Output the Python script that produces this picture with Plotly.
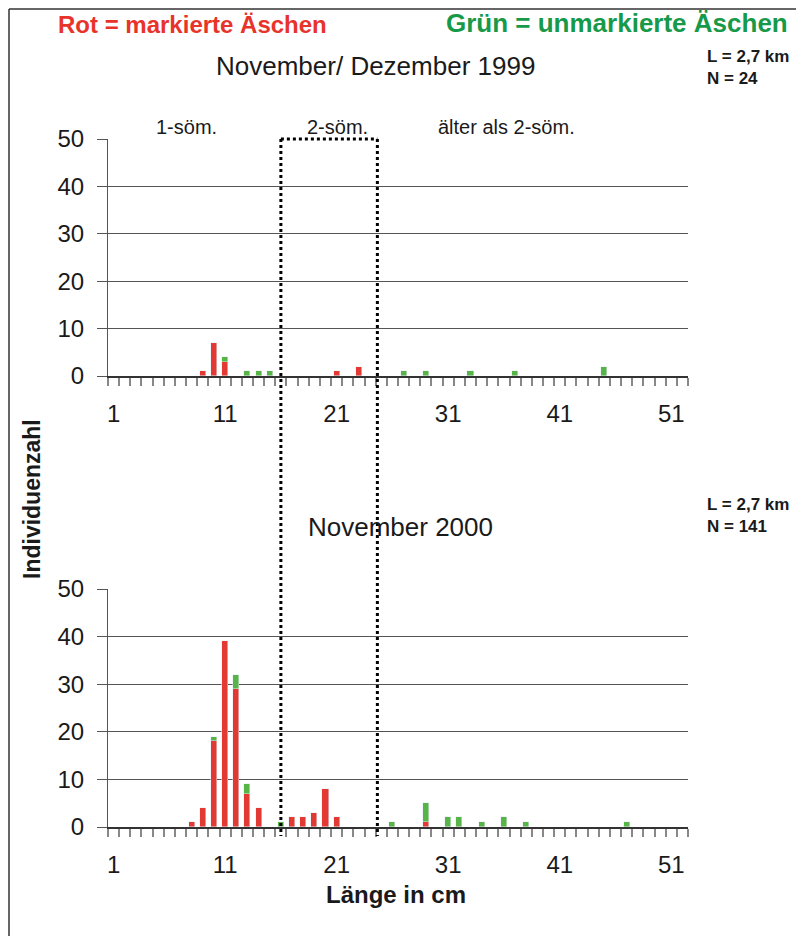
import plotly.graph_objects as go

# November/Dezember 1999 (Länge in cm -> Anzahl)
len_1999_red = [9, 10, 11, 21, 23]
cnt_1999_red = [1, 7, 3, 1, 2]
len_1999_green = [11, 13, 14, 15, 27, 29, 33, 37, 45]
cnt_1999_green = [1, 1, 1, 1, 1, 1, 1, 1, 2]

# November 2000
len_2000_red = [8, 9, 10, 11, 12, 13, 14, 17, 18, 19, 20, 21, 29]
cnt_2000_red = [1, 4, 18, 39, 29, 7, 4, 2, 2, 3, 8, 2, 1]
len_2000_green = [10, 12, 13, 16, 26, 29, 31, 32, 34, 36, 38, 47]
cnt_2000_green = [1, 3, 2, 1, 1, 4, 2, 2, 1, 2, 1, 1]

x_ticks = [1, 11, 21, 31, 41, 51]
y_ticks = [0, 10, 20, 30, 40, 50]
age_labels = ["1-söm.", "2-söm.", "älter als 2-söm."]

RED = '#E23A33'
GREEN = '#57B447'
FONT = 'Liberation Sans, Arial, sans-serif'
W, H = 804, 936
OFF = 8  # page body margin


def px(x):
    return (x - OFF) / W


def py(y):
    return 1 - (y - OFF) / H


fig = go.Figure()

# 1999 panel
fig.add_trace(go.Bar(x=len_1999_red, y=cnt_1999_red, marker_color=RED,
                     width=0.55, xaxis='x', yaxis='y', showlegend=False))
fig.add_trace(go.Bar(x=len_1999_green, y=cnt_1999_green, marker_color=GREEN,
                     width=0.55, xaxis='x', yaxis='y', showlegend=False))
# 2000 panel
fig.add_trace(go.Bar(x=len_2000_red, y=cnt_2000_red, marker_color=RED,
                     width=0.55, xaxis='x2', yaxis='y2', showlegend=False))
fig.add_trace(go.Bar(x=len_2000_green, y=cnt_2000_green, marker_color=GREEN,
                     width=0.55, xaxis='x2', yaxis='y2', showlegend=False))

xdom = [px(108), px(688)]
xaxis_style = dict(
    range=[0.5, 52.5], domain=xdom, tickvals=x_ticks,
    ticks='outside', ticklen=8, tickcolor='rgba(0,0,0,0)',
    ticklabelstandoff=7,
    minor=dict(tick0=0.5, dtick=1, ticks='outside', ticklen=8,
               tickcolor='#888', tickwidth=1.5, showgrid=False),
    showline=True, linecolor='#333', linewidth=1.5,
    showgrid=False, zeroline=False, automargin=False,
    tickfont=dict(size=24, color='#1a1a1a', family=FONT),
)
yaxis_style = dict(
    range=[0, 50], tickvals=y_ticks,
    ticks='outside', ticklen=10, tickcolor='#555', ticklabelstandoff=8,
    showline=True, linecolor='#555', linewidth=1,
    showgrid=True, gridcolor='#555', gridwidth=1, zeroline=False,
    automargin=False,
    tickfont=dict(size=24, color='#1a1a1a', family=FONT),
)

fig.update_layout(
    width=W, height=H,
    margin=dict(l=0, r=0, t=0, b=0),
    paper_bgcolor='white', plot_bgcolor='white',
    barmode='stack', bargap=0,
    font=dict(family=FONT, color='#1a1a1a'),
    xaxis=dict(xaxis_style, anchor='y'),
    yaxis=dict(yaxis_style, domain=[py(376), py(139)], anchor='x'),
    xaxis2=dict(xaxis_style, anchor='y2'),
    yaxis2=dict(yaxis_style, domain=[py(827), py(589)], anchor='x2'),
)

ann = [
    dict(text='<b>Rot = markierte Äschen</b>', x=px(192), y=py(24),
         font=dict(size=24, color='#E8332B')),
    dict(text='<b>Grün = unmarkierte Äschen</b>', x=px(617), y=py(23),
         font=dict(size=26, color='#17994A')),
    dict(text='November/ Dezember 1999', x=px(375), y=py(66),
         font=dict(size=26)),
    dict(text='November 2000', x=px(400), y=py(527), font=dict(size=26)),
    dict(text='<b>L = 2,7 km<br>N = 24</b>', x=px(705), y=py(68),
         xanchor='left', align='left', font=dict(size=17)),
    dict(text='<b>L = 2,7 km<br>N = 141</b>', x=px(705), y=py(516),
         xanchor='left', align='left', font=dict(size=17)),
    dict(text=age_labels[0], x=px(186), y=py(127), font=dict(size=20)),
    dict(text=age_labels[1], x=px(337), y=py(127), font=dict(size=20)),
    dict(text=age_labels[2], x=px(506), y=py(127), font=dict(size=20)),
    dict(text='<b>Individuenzahl</b>', x=px(32), y=py(499), textangle=-90,
         font=dict(size=23)),
    dict(text='<b>Länge in cm</b>', x=px(396), y=py(894), font=dict(size=24)),
]
for a in ann:
    a.setdefault('xanchor', 'center')
    a.update(xref='paper', yref='paper', yanchor='middle', showarrow=False)
    a['font'].setdefault('color', '#1a1a1a')
    a['font']['family'] = FONT
fig.update_layout(annotations=ann)

# dotted box for 2-sömmrige, frame lines
dot = dict(color='black', width=3, dash='dot')
frame = dict(color='#333', width=1.5)
fig.update_layout(shapes=[
    dict(type='line', xref='x', yref='paper', x0=16, x1=16,
         y0=py(139), y1=py(836), line=dot),
    dict(type='line', xref='x', yref='paper', x0=24.65, x1=24.65,
         y0=py(139), y1=py(836), line=dot),
    dict(type='line', xref='x', yref='paper', x0=16, x1=24.65,
         y0=py(139), y1=py(139), line=dot),
    dict(type='line', xref='paper', yref='paper', x0=px(9), x1=1.01,
         y0=py(9), y1=py(9), line=frame),
    dict(type='line', xref='paper', yref='paper', x0=px(9), x1=px(9),
         y0=py(9), y1=-0.01, line=frame),
])

fig.write_html("out.html")
